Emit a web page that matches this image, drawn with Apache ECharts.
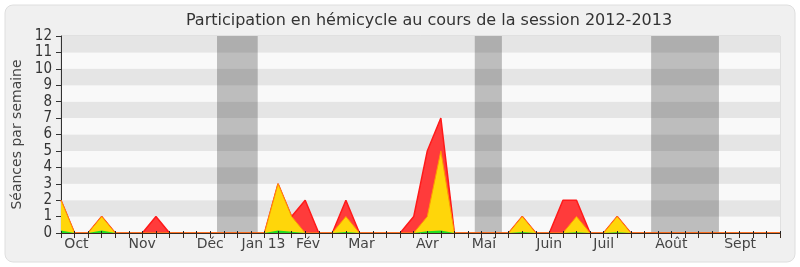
<!DOCTYPE html>
<html>
<head>
<meta charset="utf-8">
<script src="https://cdn.jsdelivr.net/npm/echarts@6/dist/echarts.min.js"></script>
<style>
html,body{margin:0;padding:0;background:#ffffff;}
#chart{width:800px;height:267px;}
</style>
</head>
<body>
<div id="chart"></div>
<script>
// Week index (0 = first week of the session, early October 2012)
var weeks = [0,1,2,3,4,5,6,7,8,9,10,11,12,13,14,15,16,17,18,19,20,21,22,23,24,25,26,27,28,29,30,31,32,33,34,35,36,37,38,39,40,41,42,43,44,45,46,47,48,49,50,51,52,53];
// Séances par semaine
var presences = [2,0,0,1,0,0,0,1,0,0, 0,0,0,0,0,0,3,1,2,0, 0,2,0,0,0,0,1,5,7,0, 0,0,0,0,1,0,0,2,2,0, 0,1,0,0,0,0,0,0,0,0, 0,0,0,0];
var interventions = [2,0,0,1,0,0,0,0,0,0, 0,0,0,0,0,0,3,1,0,0, 0,1,0,0,0,0,0,1,5,0, 0,0,0,0,1,0,0,0,1,0, 0,1,0,0,0,0,0,0,0,0, 0,0,0,0];
var questions = [0.15,0,0,0.15,0,0,0,0,0,0, 0,0,0,0,0,0,0.15,0.08,0,0, 0,0.06,0,0,0,0,0,0.1,0.15,0, 0,0,0,0,0.06,0,0,0,0.05,0, 0,0.04,0,0,0,0,0,0,0,0, 0,0,0,0];
// Parliamentary holidays (in week units)
var vacances = [[11.5,14.5],[30.5,32.5],[43.5,48.5]];
// Month labels and their positions (in week units)
var monthNames = ['Oct','Nov','Déc','Jan 13','Fév','Mar','Avr','Mai','Juin','Juil','Août','Sept'];
var monthPos = [1.14,5.98,11.0,14.93,18.21,22.15,27.0,31.18,35.99,40.0,44.99,50.06];

function pairs(vals){ return weeks.map(function(w,i){ return [w, vals[i]]; }); }
function monthName(v){
  var best = 0, bd = 1e9;
  for (var i=0;i<monthPos.length;i++){ var d=Math.abs(monthPos[i]-v); if(d<bd){bd=d;best=i;} }
  return monthNames[best];
}
var FONT = 'DejaVu Sans';
var chart = echarts.init(document.getElementById('chart'), null, {renderer:'canvas'});
chart.setOption({
  animation:false,
  backgroundColor:'transparent',
  textStyle:{fontFamily:FONT},
  graphic:[{
    type:'rect', z:-10, silent:true,
    shape:{x:5,y:5,width:790,height:257,r:8},
    style:{fill:'#f0f0f0',stroke:'#dedede',lineWidth:1}
  }],
  title:{
    text:'Participation en hémicycle au cours de la session 2012-2013',
    left:424, top:8, textAlign:'center',
    textStyle:{fontFamily:FONT,fontSize:16,fontWeight:'normal',color:'#333'}
  },
  grid:{left:61,right:20,top:36,bottom:34,show:true,borderColor:'#d0d0d0',borderWidth:1,backgroundColor:'transparent'},
  xAxis:[{
    type:'value', min:0, max:53, position:'bottom', z:10,
    axisLine:{show:true,onZero:false,lineStyle:{color:'#3a2a20',width:1}},
    axisTick:{show:true,length:5,customValues:weeks,lineStyle:{color:'#3a2a20'}},
    axisLabel:{show:true,customValues:monthPos,formatter:function(v){return monthName(v);},
      fontFamily:FONT,fontSize:14,color:'#444',margin:4},
    splitLine:{show:false}
  },{
    type:'value', min:0, max:53, position:'top', z:10,
    axisLine:{show:false},
    axisTick:{show:true,length:2,customValues:weeks,lineStyle:{color:'#222'}},
    axisLabel:{show:false},
    splitLine:{show:false}
  }],
  yAxis:{
    type:'value', min:0, max:12, interval:1,
    name:'Séances par semaine', nameLocation:'middle', nameGap:36,
    nameTextStyle:{fontFamily:FONT,fontSize:14,color:'#444'},
    axisLine:{show:true,lineStyle:{color:'#333'}},
    axisTick:{show:true,length:5,lineStyle:{color:'#333'}},
    axisLabel:{fontFamily:'DejaVu Sans Condensed',fontSize:15,color:'#333',margin:9},
    splitLine:{show:false},
    splitArea:{show:true,areaStyle:{color:['#f9f9f9','#e5e5e5']}}
  },
  series:[{
    name:'Présences', type:'line', data:pairs(presences), symbol:'none',
    lineStyle:{color:'#ff1a1a',width:1.5},
    areaStyle:{color:'#ff3b3b',opacity:1},
    z:2,
    markArea:{silent:true,itemStyle:{color:'rgba(0,0,0,0.24)'},
      data:vacances.map(function(v){return [{xAxis:v[0],yAxis:0},{xAxis:v[1],yAxis:12}];})}
  },{
    name:'Interventions', type:'line', data:pairs(interventions), symbol:'none',
    lineStyle:{color:'#ff9a00',width:1},
    areaStyle:{color:'#ffd60a',opacity:1},
    z:3
  },{
    name:'Questions', type:'line', data:pairs(questions), symbol:'none',
    lineStyle:{width:0},
    areaStyle:{color:'#22dd22',opacity:1},
    z:4
  }]
});
</script>
</body>
</html>
